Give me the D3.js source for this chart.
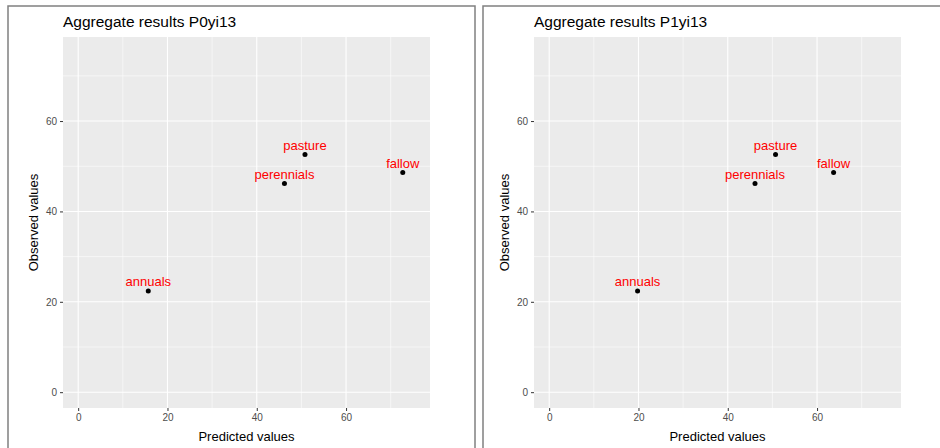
<!DOCTYPE html>
<html>
<head>
<meta charset="utf-8">
<script src="https://cdn.jsdelivr.net/npm/d3@7"></script>
<style>
  body { margin: 0; background: #fff; }
  svg { display: block; font-family: "Liberation Sans", Arial, sans-serif; }
</style>
</head>
<body>
<div id="chart"></div>
<script>
// data
const landUse = ["annuals", "perennials", "pasture", "fallow"];
const observed = [22.4, 46.2, 52.6, 48.6];
const predictedP0 = [15.7, 46.2, 50.8, 72.7];
const predictedP1 = [19.8, 46.1, 50.7, 63.7];
const titles = ["Aggregate results P0yi13", "Aggregate results P1yi13"];
const majorTicks = [0, 20, 40, 60];
const minorTicks = [10, 30, 50, 70];

const width = 940, height = 448;

const svg = d3.select("#chart")
    .append("svg")
    .attr("width", width)
    .attr("height", height);

// frames round each image
svg.append("rect")
    .attr("x", 8).attr("y", 6)
    .attr("width", 467).attr("height", 460)
    .attr("fill", "none").attr("stroke", "#808080").attr("stroke-width", 1.5);
svg.append("rect")
    .attr("x", 483).attr("y", 6)
    .attr("width", 480).attr("height", 460)
    .attr("fill", "none").attr("stroke", "#808080").attr("stroke-width", 1.5);

function drawPanel(left, title, predicted) {
    const plotTop = 37, plotBottom = 408, plotWidth = 367;

    const x = d3.scaleLinear().domain([-3.4, 78.8]).range([left, left + plotWidth]);
    const y = d3.scaleLinear().domain([-3.5, 78.6]).range([plotBottom, plotTop]);

    const g = svg.append("g");

    g.append("rect")
        .attr("x", left).attr("y", plotTop)
        .attr("width", plotWidth).attr("height", plotBottom - plotTop)
        .attr("fill", "#EBEBEB");

    // grid
    g.selectAll(".vminor").data(minorTicks).enter().append("line")
        .attr("x1", d => x(d)).attr("x2", d => x(d))
        .attr("y1", plotTop).attr("y2", plotBottom)
        .attr("stroke", "#fff").attr("stroke-width", 0.55);
    g.selectAll(".hminor").data(minorTicks).enter().append("line")
        .attr("x1", left).attr("x2", left + plotWidth)
        .attr("y1", d => y(d)).attr("y2", d => y(d))
        .attr("stroke", "#fff").attr("stroke-width", 0.55);
    g.selectAll(".vmajor").data(majorTicks).enter().append("line")
        .attr("x1", d => x(d)).attr("x2", d => x(d))
        .attr("y1", plotTop).attr("y2", plotBottom)
        .attr("stroke", "#fff").attr("stroke-width", 1.1);
    g.selectAll(".hmajor").data(majorTicks).enter().append("line")
        .attr("x1", left).attr("x2", left + plotWidth)
        .attr("y1", d => y(d)).attr("y2", d => y(d))
        .attr("stroke", "#fff").attr("stroke-width", 1.1);

    // axes
    const xAxis = g.append("g")
        .attr("transform", `translate(0,${plotBottom})`)
        .call(d3.axisBottom(x).tickValues(majorTicks).tickSize(3).tickPadding(3));
    const yAxis = g.append("g")
        .attr("transform", `translate(${left},0)`)
        .call(d3.axisLeft(y).tickValues(majorTicks).tickSize(3).tickPadding(3));
    [xAxis, yAxis].forEach(a => {
        a.select(".domain").remove();
        a.selectAll(".tick line").attr("stroke", "#333").attr("stroke-width", 1);
        a.selectAll(".tick text")
            .attr("fill", "#4D4D4D")
            .style("font-size", "10px")
            .style("font-family", "Liberation Sans, Arial, sans-serif");
    });

    // points and labels
    const pts = landUse.map((name, i) => ({ name: name, px: predicted[i], ob: observed[i] }));
    g.selectAll(".pt").data(pts).enter().append("circle")
        .attr("cx", d => x(d.px)).attr("cy", d => y(d.ob))
        .attr("r", 2.5).attr("fill", "#000");
    g.selectAll(".lbl").data(pts).enter().append("text")
        .attr("x", d => x(d.px)).attr("y", d => y(d.ob) - 4.5)
        .attr("text-anchor", "middle")
        .attr("fill", "#FF0000")
        .style("font-size", "13px")
        .text(d => d.name);

    // titles
    g.append("text")
        .attr("x", left).attr("y", 27)
        .attr("fill", "#000")
        .style("font-size", "15.5px")
        .text(title);
    g.append("text")
        .attr("x", left + plotWidth / 2).attr("y", 441)
        .attr("text-anchor", "middle")
        .attr("fill", "#000")
        .style("font-size", "13px")
        .text("Predicted values");
    g.append("text")
        .attr("transform", `translate(${left - 25},${(plotTop + plotBottom) / 2})rotate(-90)`)
        .attr("text-anchor", "middle")
        .attr("fill", "#000")
        .style("font-size", "13px")
        .text("Observed values");
}

drawPanel(63, titles[0], predictedP0);
drawPanel(534, titles[1], predictedP1);
</script>
</body>
</html>
